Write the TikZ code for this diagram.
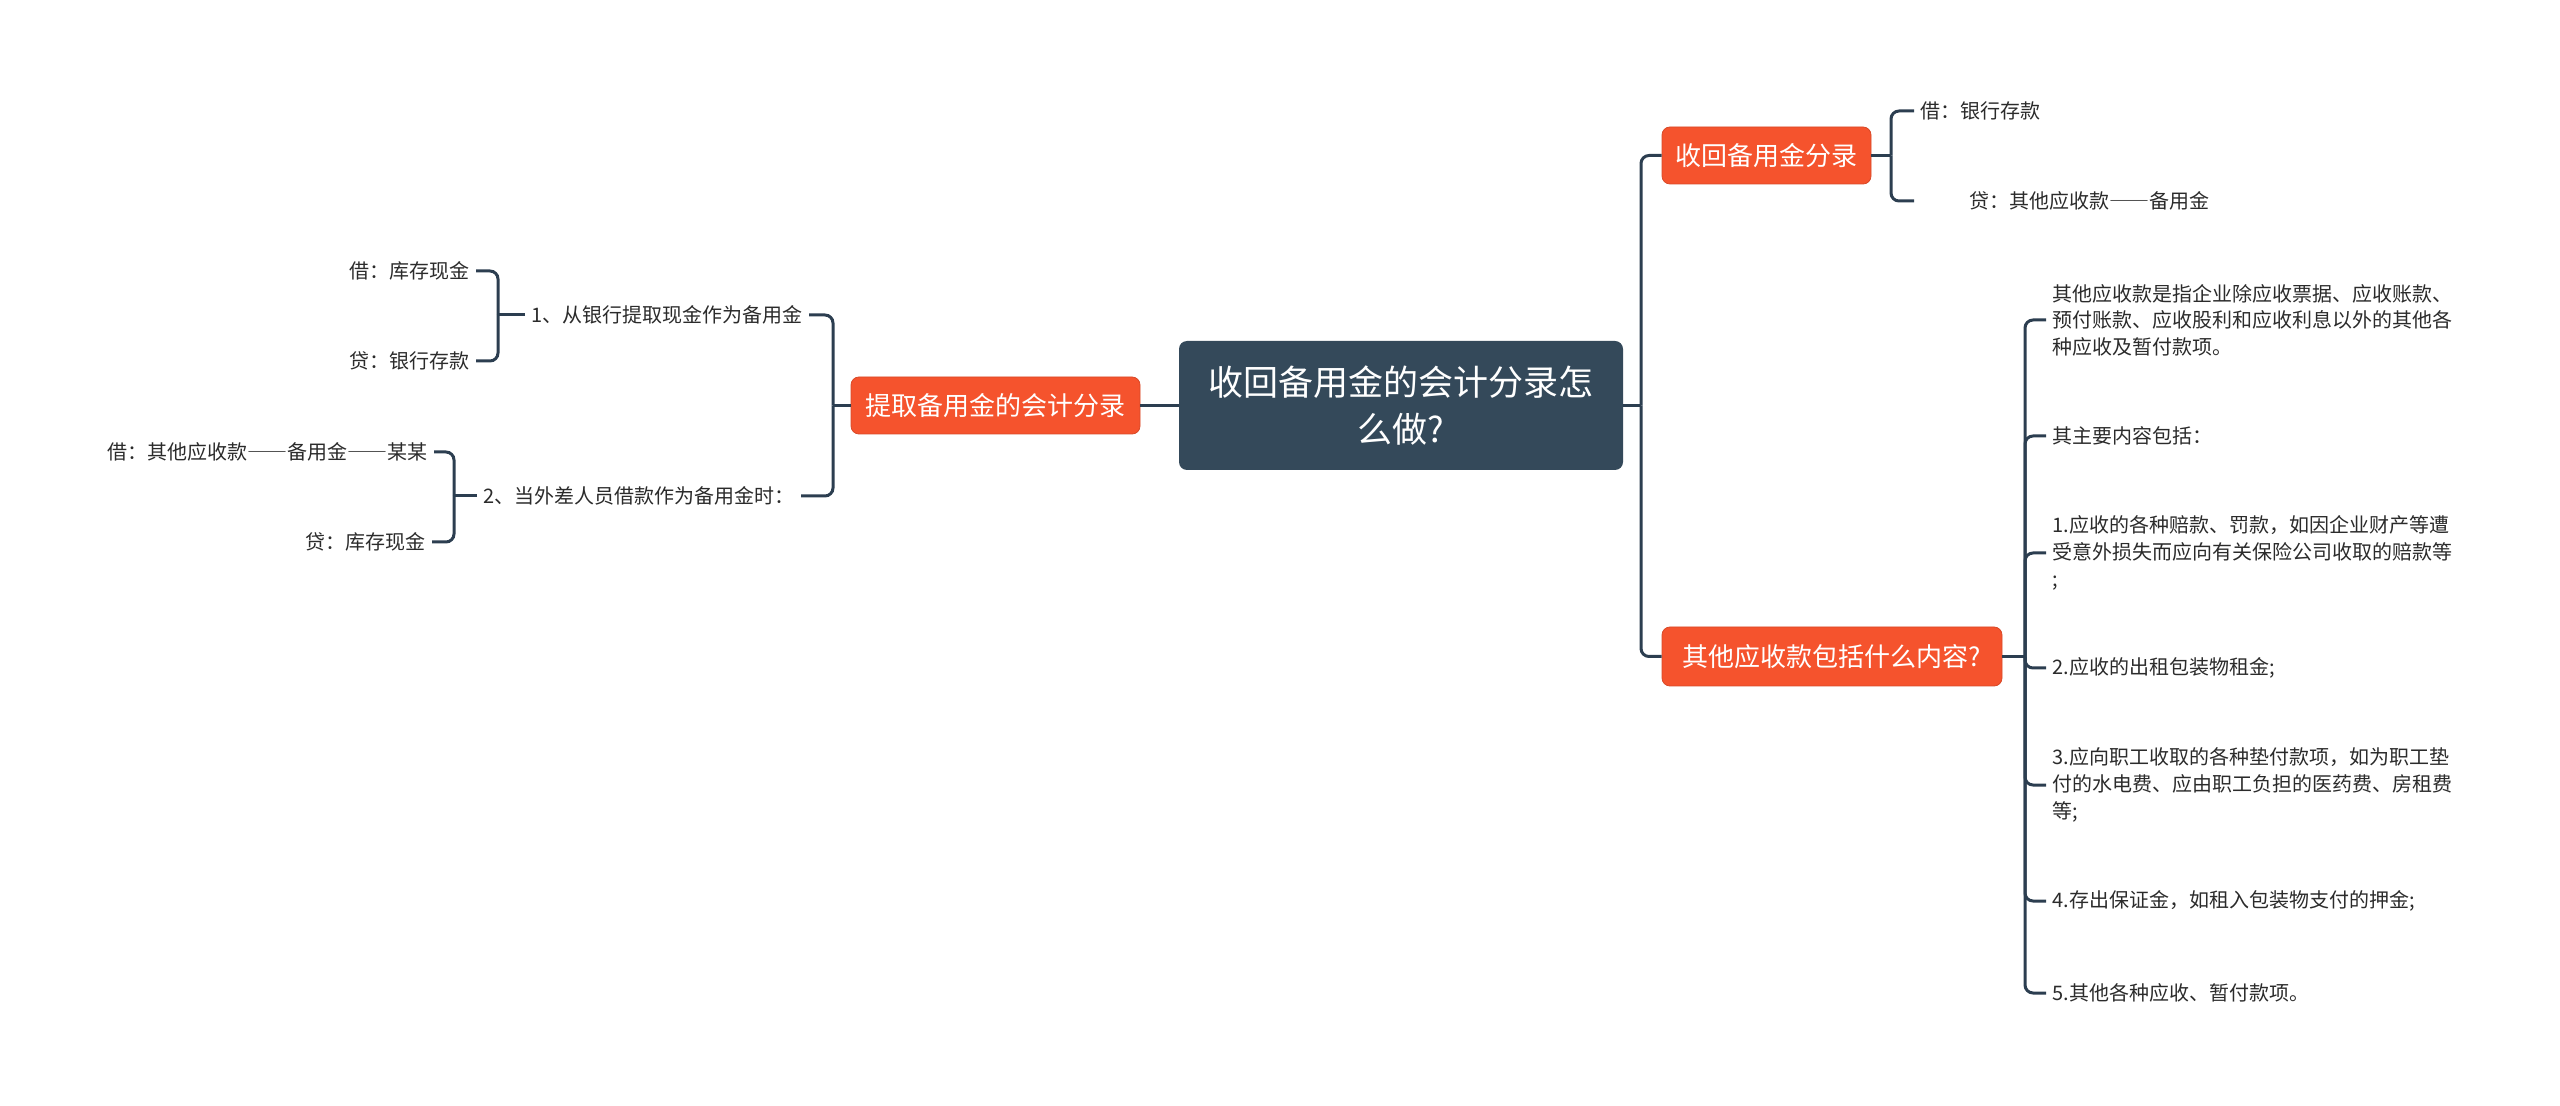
\documentclass[tikz,border=0pt]{standalone}
\usepackage{fontspec}
\setmainfont{Noto Sans CJK SC}
\usepackage{xcolor}
\usepackage{tikz}
\definecolor{slate}{HTML}{34495A}
\definecolor{tomato}{HTML}{F5532D}
\definecolor{linkcol}{HTML}{2C3E50}
\definecolor{ink}{HTML}{2B2B2B}
\newcommand{\longdash}{{\addfontfeature{RawFeature=+fwid}——}}

\tikzset{
  rootbox/.style={fill=slate, rounded corners=4pt, text=white, align=center,
    minimum width=222pt, minimum height=64.5pt, inner sep=0pt,
    font=\fontsize{17.5}{23.5}\selectfont},
  topicbox/.style={fill=tomato, draw=tomato!88!black, line width=0.4pt,
    rounded corners=4pt, text=white, minimum height=28.5pt, inner sep=0pt,
    font=\fontsize{13}{16}\selectfont},
  leaf/.style={text=ink, inner xsep=3pt, inner ysep=2pt, align=left,
    font=\fontsize{10}{13.3}\selectfont},
  link/.style={draw=linkcol, line width=1.5pt, rounded corners=4pt}
}

\begin{document}
\begin{tikzpicture}[x=0.5pt, y=-0.5pt]
\useasboundingbox (0,0) rectangle (2560,1106);

% centre
\node[rootbox] (root) at (1401,405.5) {收回备用金的会计分录怎\\么做?};

% left branch
\node[topicbox, minimum width=144.5pt] (lo) at (995.5,405.5) {提取备用金的会计分录};
\node[leaf, anchor=east] (l1) at (809,315) {1、从银行提取现金作为备用金};
\node[leaf, anchor=east] (l2) at (801,496) {2、当外差人员借款作为备用金时：};
\node[leaf, anchor=east] (l11) at (476,271) {借：库存现金};
\node[leaf, anchor=east] (l12) at (476,361) {贷：银行存款};
\node[leaf, anchor=east] (l21) at (434,452) {借：其他应收款\longdash 备用金\longdash 某某};
\node[leaf, anchor=east] (l22) at (432,542) {贷：库存现金};

% right branch
\node[topicbox, minimum width=104.5pt] (ro1) at (1766.5,155.5) {收回备用金分录};
\node[topicbox, minimum width=170pt, minimum height=29.5pt] (ro2) at (1832,656.5) {其他应收款包括什么内容?};
\node[leaf, anchor=west] (r11) at (1914,111) {借：银行存款};
\node[leaf, anchor=west] (r12) at (1914,201) {\hspace*{24.5pt}贷：其他应收款\longdash 备用金};

\node[leaf, anchor=west] (k1) at (2046,320) {其他应收款是指企业除应收票据、应收账款、\\预付账款、应收股利和应收利息以外的其他各\\种应收及暂付款项。};
\node[leaf, anchor=west] (k2) at (2046,436) {其主要内容包括：};
\node[leaf, anchor=west] (k3) at (2046,553) {1.应收的各种赔款、罚款，如因企业财产等遭\\受意外损失而应向有关保险公司收取的赔款等\\;};
\node[leaf, anchor=west] (k4) at (2046,668) {2.应收的出租包装物租金;};
\node[leaf, anchor=west] (k5) at (2046,785) {3.应向职工收取的各种垫付款项，如为职工垫\\付的水电费、应由职工负担的医药费、房租费\\等;};
\node[leaf, anchor=west] (k6) at (2046,901) {4.存出保证金，如租入包装物支付的押金;};
\node[leaf, anchor=west] (k7) at (2046,993) {5.其他各种应收、暂付款项。};

% connectors
\coordinate (lbr) at (833,405.5);
\coordinate (l1br) at (498,315);
\coordinate (l2br) at (454,496);
\coordinate (rtrunk) at (1641,405.5);
\coordinate (r1br) at (1891,155.5);
\coordinate (r2br) at (2025,656.5);

\draw[link] (lo.east) -- (root.west);
\draw[link] (lo.west) -- (lbr);
\draw[link] (lbr) |- (l1.east);
\draw[link] (lbr) |- (l2.east);
\draw[link] (l1.west) -- (l1br);
\draw[link] (l1br) |- (l11.east);
\draw[link] (l1br) |- (l12.east);
\draw[link] (l2.west) -- (l2br);
\draw[link] (l2br) |- (l21.east);
\draw[link] (l2br) |- (l22.east);

\draw[link] (root.east) -- (rtrunk);
\draw[link] (rtrunk) |- (ro1.west);
\draw[link] (rtrunk) |- (ro2.west);
\draw[link] (ro1.east) -- (r1br);
\draw[link] (r1br) |- (r11.west);
\draw[link] (r1br) |- (r12.west);
\draw[link] (ro2.east) -- (r2br);
\foreach \k in {k1,k2,k3,k4,k5,k6,k7}
  \draw[link] (r2br) |- (\k.west);
\end{tikzpicture}
\end{document}
